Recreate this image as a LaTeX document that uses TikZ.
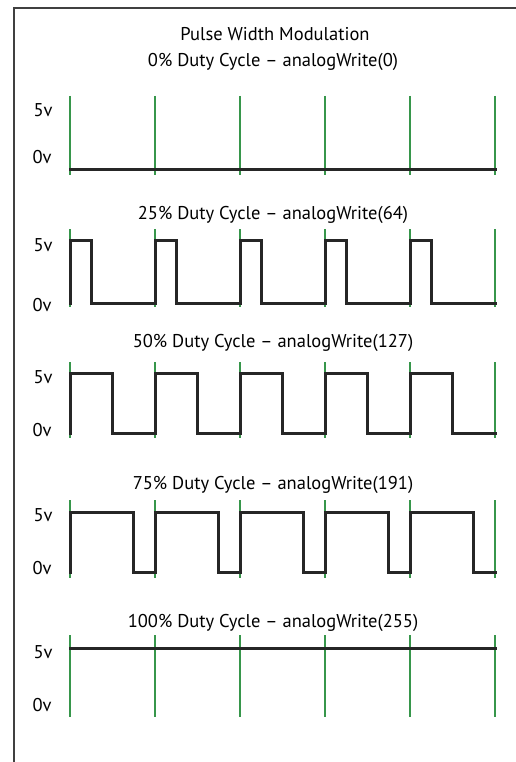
\documentclass[tikz,border=0pt]{standalone}
\usepackage{fontspec}
\setmainfont{PT Sans}
\definecolor{gridgreen}{RGB}{55,150,75}
\begin{document}
\begin{tikzpicture}[x=1pt,y=-1pt]
        \tikzstyle{every node}=[font=\fontsize{18.5}{20}\selectfont, inner sep=0pt];
        \tikzstyle{grid}=[draw=gridgreen, line width=1.4pt];
        \tikzstyle{wave}=[draw=black!85, line width=3pt, line cap=rect, line join=miter];
        \useasboundingbox (0,0) rectangle (516,762);
        \fill[white] (0,0) rectangle (516,762);
        \draw[black!75, line width=1.5pt] (14,762) -- (14,8) -- (516,8);
        \node (title) at (275,34) {Pulse Width Modulation};
        % panels: title y / high y / low y / grid top / grid bottom / 5v y / 0v y / duty / value
        \foreach \n/\ty/\yh/\yl/\gt/\gb/\fv/\zv/\d/\val in {1/62/110/170/96/175/110/157/0/0, 2/215/240/303/229/307/245/305/25/64, 3/343/373/433/362/438/377/430/50/127, 4/485/512/572/500/578/515/568/75/191, 5/623/648/708/635/717/652/705/100/255} {
            \node (t\n) at (273,\ty) {\d\% Duty Cycle -- analogWrite(\val)};
            \node (h\n) at (43,\fv) {5v};
            \node (l\n) at (42,\zv) {0v};
            \foreach \k in {0,...,5}
                \draw[grid] ({70+\k*85},\gt) -- ({70+\k*85},\gb);
            \ifnum\d=0
                \draw[wave] (70,\yl) -- (495,\yl);
            \else\ifnum\d=100
                \draw[wave] (70,\yh) -- (495,\yh);
            \else
                \foreach \k in {0,...,4}
                    \draw[wave] ({70+\k*85},\yl) -- ({70+\k*85},\yh) -- ({70+\k*85+\d*0.85},\yh) -- ({70+\k*85+\d*0.85},\yl) -- ({70+(\k+1)*85},\yl);
            \fi\fi
        }
    \end{tikzpicture}
\end{document}
